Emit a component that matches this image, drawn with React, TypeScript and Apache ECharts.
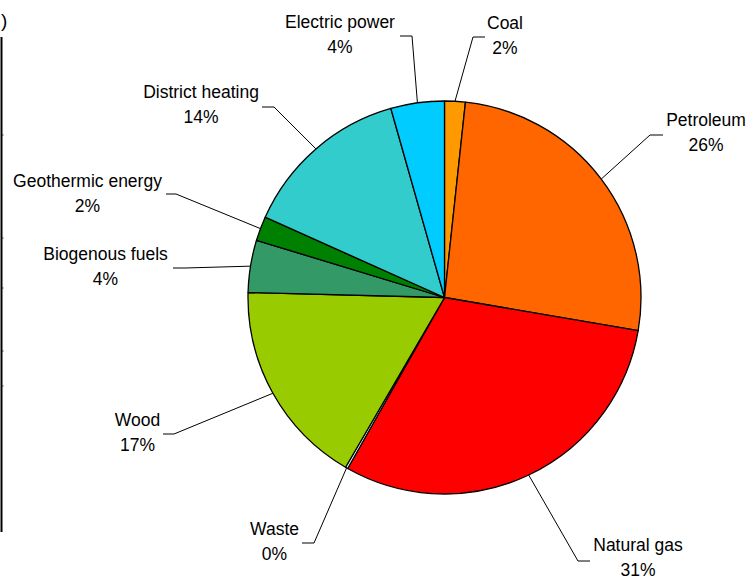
import React, { useEffect, useRef } from "react";
import * as echarts from "echarts";

// Energy sources and their shares (%) of final energy use
const categories = [
  "Coal",
  "Petroleum",
  "Natural gas",
  "Waste",
  "Wood",
  "Biogenous fuels",
  "Geothermic energy",
  "District heating",
  "Electric power",
];
const shares = [1.7, 26.0, 30.5, 0.2, 17.0, 4.3, 2.0, 13.9, 4.4];
const sliceColors = [
  "#FF9900",
  "#FF6600",
  "#FF0000",
  "#CCFFFF",
  "#99CC00",
  "#339966",
  "#008000",
  "#33CCCC",
  "#00CCFF",
];

// Pie geometry
const CX = 444.5;
const CY = 297.5;
const R = 196.5;

// Where each label sits (centre x, top y) and where its leader line bends / ends
const labelSpots = [
  { x: 505, y: 10, elbow: [473, 37], end: [485, 37] },
  { x: 706, y: 107.5, elbow: [650, 135], end: [663, 135] },
  { x: 638, y: 532, elbow: [578, 561], end: [590, 561] },
  { x: 274.5, y: 516.5, elbow: [314, 543], end: [302, 543] },
  { x: 137.5, y: 407, elbow: [174, 434], end: [163, 434] },
  { x: 105.5, y: 241.5, elbow: [185, 268], end: [173, 268] },
  { x: 87.5, y: 168.5, elbow: [176, 194], end: [166, 194] },
  { x: 201, y: 79.5, elbow: [274, 107], end: [262, 107] },
  { x: 340, y: 9.5, elbow: [412, 36], end: [400, 36] },
];

// Point on the rim at the middle of slice i (clockwise from 12 o'clock)
function rimPoint(i: number): number[] {
  const total = shares.reduce((a, b) => a + b, 0);
  let before = 0;
  for (let k = 0; k < i; k++) before += shares[k];
  const mid = ((before + shares[i] / 2) / total) * Math.PI * 2;
  return [CX + R * Math.sin(mid), CY - R * Math.cos(mid)];
}

// Leftover axis fragment at the far left edge
const edgeTicks = [135, 238, 288, 351, 386];

export default function App() {
  const ref = useRef<HTMLDivElement>(null);

  useEffect(() => {
    document.body.style.margin = "0";
    if (!ref.current) return;
    const chart = echarts.init(ref.current, undefined, { renderer: "svg" });

    const graphic: any[] = [
      {
        type: "text",
        left: 1,
        top: 11,
        style: {
          text: ")",
          fontSize: 19,
          fontFamily: "Liberation Sans, Arial, sans-serif",
          fill: "#000",
        },
      },
      {
        type: "line",
        shape: { x1: 1.5, y1: 37, x2: 1.5, y2: 532 },
        style: { stroke: "#000", lineWidth: 2 },
      },
      ...edgeTicks.map((y) => ({
        type: "line",
        shape: { x1: 2, y1: y, x2: 3.5, y2: y },
        style: { stroke: "#333", lineWidth: 1 },
      })),
    ];

    chart.setOption({
      animation: false,
      backgroundColor: "#fff",
      graphic,
      series: [
        {
          type: "pie",
          center: [CX, CY],
          radius: R,
          startAngle: 90,
          clockwise: true,
          avoidLabelOverlap: false,
          percentPrecision: 0,
          silent: true,
          data: categories.map((name, i) => ({
            name,
            value: shares[i],
            itemStyle: { color: sliceColors[i] },
          })),
          itemStyle: { borderColor: "#000", borderWidth: 1.3 },
          label: {
            show: true,
            position: "outside",
            formatter: "{b}\n{d}%",
            fontSize: 17.5,
            lineHeight: 25,
            align: "center",
            color: "#000",
            fontFamily: "Liberation Sans, Arial, sans-serif",
          },
          labelLine: {
            show: true,
            length: 10,
            length2: 10,
            lineStyle: { color: "#000", width: 1 },
          },
          labelLayout: (params: any) => {
            const i = params.dataIndex;
            const s = labelSpots[i];
            return {
              x: s.x,
              y: s.y,
              align: "center",
              verticalAlign: "top",
              labelLinePoints: [rimPoint(i), s.elbow, s.end],
            };
          },
        },
      ],
    });

    return () => chart.dispose();
  }, []);

  return <div ref={ref} style={{ width: 755, height: 581 }} />;
}
